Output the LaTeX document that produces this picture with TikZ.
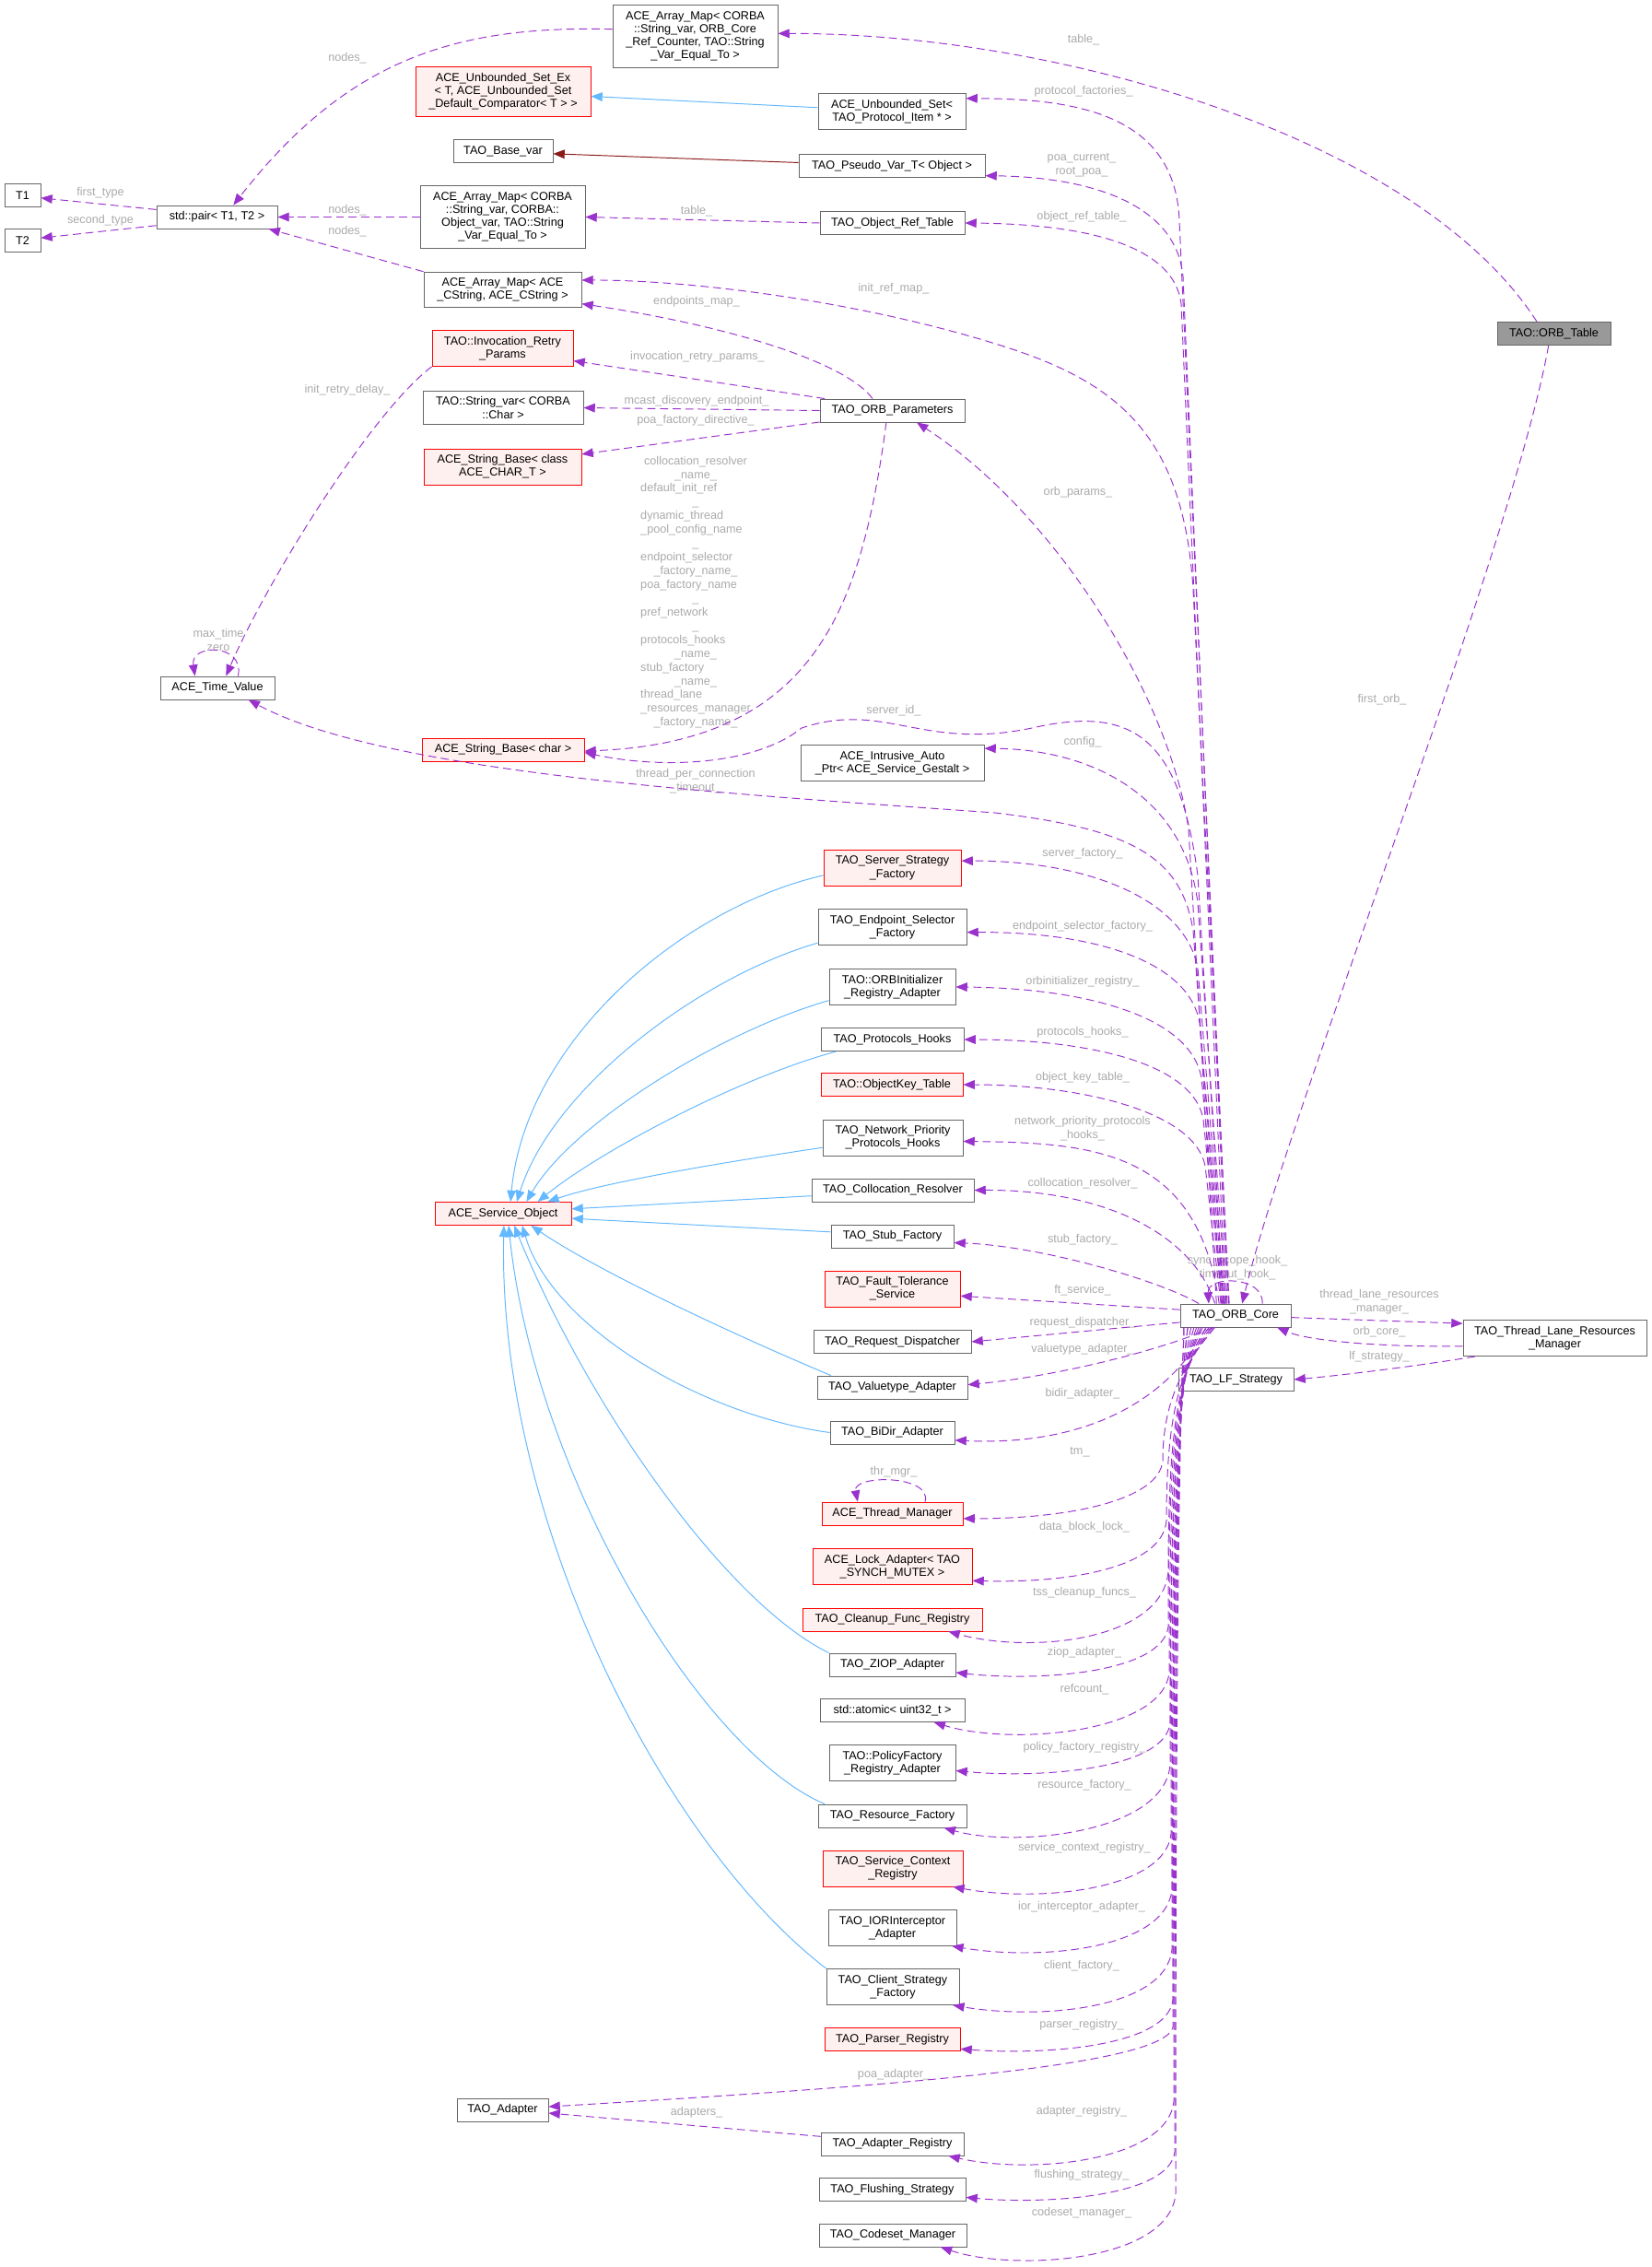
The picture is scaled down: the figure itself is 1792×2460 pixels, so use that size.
\documentclass[tikz,border=0pt]{standalone}
\usepackage{fontspec}
\setmainfont{Liberation Sans}
\usetikzlibrary{arrows.meta}

\definecolor{memcol}{HTML}{9A32CD}
\definecolor{inhcol}{HTML}{63B8FF}
\definecolor{privcol}{HTML}{8B1A1A}
\definecolor{lblcol}{HTML}{ABABAB}
\definecolor{boxcol}{HTML}{666666}
\definecolor{redfill}{HTML}{FFF0F0}
\definecolor{curfill}{HTML}{999999}

\tikzset{
  cls/.style={draw=boxcol, line width=0.5pt, fill=white, align=center, inner xsep=4pt, inner ysep=3.7pt,
    minimum height=25*\pxu, font=\fontsize{7.2}{8.1}\selectfont},
  redcls/.style={cls, draw=red, fill=redfill},
  curcls/.style={cls, fill=curfill},
  lbl/.style={text=lblcol, align=center, inner sep=0pt, font=\fontsize{7.2}{8.5}\selectfont},
  member/.style={draw=memcol, line width=0.55pt, dash pattern=on 5pt off 2.8pt, -{Triangle[length=7pt,width=5.5pt]}},
  inherit/.style={draw=inhcol, line width=0.55pt, -{Triangle[length=7pt,width=5.5pt]}},
  privinh/.style={draw=privcol, line width=0.55pt, -{Triangle[length=7pt,width=5.5pt]}}
}

\begin{document}
\begin{tikzpicture}[x=0.02cm, y=-0.02cm]

% Define pixel unit
\def\pxu{0.02cm}

% Page
\fill[white] (0,0) rectangle (1792,2460);
\useasboundingbox (0,0) rectangle (1792,2460);

% ===== Left column =====
\node[cls, minimum width=39*\pxu] (t1) at (24.5,212) {T1};
\node[cls, minimum width=39*\pxu] (t2) at (24.5,261) {T2};
\node[cls, minimum width=131*\pxu] (pair) at (235.5,235.5) {std::pair< T1, T2 >};
\node[cls, minimum width=124*\pxu] (timeval) at (236,746.5) {ACE\_Time\_Value};
\node[redcls, minimum width=148*\pxu] (svcobj) at (546,1317) {ACE\_Service\_Object};
\node[cls, minimum width=99*\pxu] (adapter) at (545.5,2289.5) {TAO\_Adapter};

% ===== Second column =====
\node[cls, minimum width=179*\pxu] (arrmapref) at (754.5,39.5) {ACE\_Array\_Map< CORBA\\::String\_var, ORB\_Core\\\_Ref\_Counter, TAO::String\\\_Var\_Equal\_To >};
\node[redcls, minimum width=190*\pxu] (unbsetex) at (546,99.5) {ACE\_Unbounded\_Set\_Ex\\< T, ACE\_Unbounded\_Set\\\_Default\_Comparator< T > >};
\node[cls, minimum width=108*\pxu] (basevar) at (546,164) {TAO\_Base\_var};
\node[cls, minimum width=179*\pxu] (arrmapobj) at (545.5,235.5) {ACE\_Array\_Map< CORBA\\::String\_var, CORBA::\\Object\_var, TAO::String\\\_Var\_Equal\_To >};
\node[cls, minimum width=171*\pxu] (arrmapstr) at (545.5,314.5) {ACE\_Array\_Map< ACE\\\_CString, ACE\_CString >};
\node[redcls, minimum width=153*\pxu] (retry) at (545.5,378) {TAO::Invocation\_Retry\\\_Params};
\node[cls, minimum width=174*\pxu] (strvar) at (546,442.5) {TAO::String\_var< CORBA\\::Char >};
\node[redcls, minimum width=171*\pxu] (strbasecls) at (545.5,506.5) {ACE\_String\_Base< class\\ACE\_CHAR\_T >};
\node[redcls, minimum width=176*\pxu] (strbasechar) at (546,813.5) {ACE\_String\_Base< char >};

% ===== Third column =====
\node[cls, minimum width=160*\pxu] (unbset) at (968,121) {ACE\_Unbounded\_Set<\\TAO\_Protocol\_Item * >};
\node[cls, minimum width=202*\pxu] (pseudovar) at (968,180) {TAO\_Pseudo\_Var\_T< Object >};
\node[cls, minimum width=157*\pxu] (objreftable) at (968.5,242) {TAO\_Object\_Ref\_Table};
\node[cls, minimum width=157*\pxu] (orbparams) at (968.5,445.5) {TAO\_ORB\_Parameters};
\node[cls, minimum width=199*\pxu] (intrusive) at (968.5,828) {ACE\_Intrusive\_Auto\\\_Ptr< ACE\_Service\_Gestalt >};
\node[redcls, minimum width=149*\pxu] (srvstrat) at (968.5,942) {TAO\_Server\_Strategy\\\_Factory};
\node[cls, minimum width=161*\pxu] (epsel) at (968.5,1006) {TAO\_Endpoint\_Selector\\\_Factory};
\node[cls, minimum width=137*\pxu] (orbinit) at (968.5,1071) {TAO::ORBInitializer\\\_Registry\_Adapter};
\node[cls, minimum width=155*\pxu] (prothooks) at (968.5,1128) {TAO\_Protocols\_Hooks};
\node[redcls, minimum width=154*\pxu] (objkey) at (968,1177) {TAO::ObjectKey\_Table};
\node[cls, minimum width=152*\pxu] (netprio) at (969,1234.5) {TAO\_Network\_Priority\\\_Protocols\_Hooks};
\node[cls, minimum width=176*\pxu] (colloc) at (969,1291.5) {TAO\_Collocation\_Resolver};
\node[cls, minimum width=133*\pxu] (stubfac) at (968.5,1341.5) {TAO\_Stub\_Factory};
\node[redcls, minimum width=147*\pxu] (ftsvc) at (968.5,1398.5) {TAO\_Fault\_Tolerance\\\_Service};
\node[cls, minimum width=171*\pxu] (reqdisp) at (968.5,1456) {TAO\_Request\_Dispatcher};
\node[cls, minimum width=163*\pxu] (valtype) at (968.5,1505.5) {TAO\_Valuetype\_Adapter};
\node[cls, minimum width=135*\pxu] (bidir) at (968.5,1554.5) {TAO\_BiDir\_Adapter};
\node[redcls, minimum width=153*\pxu] (thrmgr) at (968.5,1642.5) {ACE\_Thread\_Manager};
\node[redcls, minimum width=173*\pxu] (lockadp) at (968.5,1700) {ACE\_Lock\_Adapter< TAO\\\_SYNCH\_MUTEX >};
\node[redcls, minimum width=195*\pxu] (cleanup) at (968.5,1757.5) {TAO\_Cleanup\_Func\_Registry};
\node[cls, minimum width=137*\pxu] (ziop) at (968.5,1806.5) {TAO\_ZIOP\_Adapter};
\node[cls, minimum width=157*\pxu] (atomic) at (968.5,1856) {std::atomic< uint32\_t >};
\node[cls, minimum width=137*\pxu] (polfac) at (968.5,1913) {TAO::PolicyFactory\\\_Registry\_Adapter};
\node[cls, minimum width=161*\pxu] (resfac) at (968.5,1970.5) {TAO\_Resource\_Factory};
\node[redcls, minimum width=152*\pxu] (svcctx) at (969,2027.5) {TAO\_Service\_Context\\\_Registry};
\node[cls, minimum width=139*\pxu] (iorint) at (968.5,2092) {TAO\_IORInterceptor\\\_Adapter};
\node[cls, minimum width=144*\pxu] (clistrat) at (969,2156) {TAO\_Client\_Strategy\\\_Factory};
\node[redcls, minimum width=147*\pxu] (parser) at (968.5,2213) {TAO\_Parser\_Registry};
\node[cls, minimum width=155*\pxu] (adpreg) at (968.5,2326.5) {TAO\_Adapter\_Registry};
\node[cls, minimum width=159*\pxu] (flush) at (968.5,2376) {TAO\_Flushing\_Strategy};
\node[cls, minimum width=160*\pxu] (codeset) at (969,2425.5) {TAO\_Codeset\_Manager};

% ===== Right side =====
\node[cls, minimum width=120*\pxu] (orbcore) at (1341,1427.5) {TAO\_ORB\_Core};
\node[cls, minimum width=125*\pxu] (lfstrat) at (1341.5,1497) {TAO\_LF\_Strategy};
\node[cls, minimum width=199*\pxu] (tlrm) at (1687.5,1452) {TAO\_Thread\_Lane\_Resources\\\_Manager};
\node[curcls, minimum width=123*\pxu] (orbtable) at (1686.5,362) {TAO::ORB\_Table};

% ===== Edge labels =====
\node[lbl] (lnodesa) at (377,63) {nodes\_};
\node[lbl] (lnodesb) at (377,228) {nodes\_};
\node[lbl] (lnodesc) at (377,251) {nodes\_};
\node[lbl] (lfirst) at (109,209) {first\_type};
\node[lbl] (lsecond) at (109,239) {second\_type};
\node[lbl] (ltablea) at (1176,43) {table\_};
\node[lbl] (ltableb) at (756,229) {table\_};
\node[lbl] (lprotfac) at (1176,99) {protocol\_factories\_};
\node[lbl] (lpoacur) at (1174,179.5) {poa\_current\_\\root\_poa\_};
\node[lbl] (lobjref) at (1174,235) {object\_ref\_table\_};
\node[lbl] (linitref) at (970,313) {init\_ref\_map\_};
\node[lbl] (lendpts) at (756,327) {endpoints\_map\_};
\node[lbl] (linvretry) at (757,387) {invocation\_retry\_params\_};
\node[lbl] (lmcast) at (756,435) {mcast\_discovery\_endpoint\_};
\node[lbl] (lpoadir) at (755,456) {poa\_factory\_directive\_};
\node[lbl] (lretrydelay) at (377,423) {init\_retry\_delay\_};
\node[lbl] (lnames) at (755,643) {\begin{tabular}{@{}l@{}}
\multicolumn{1}{@{}c@{}}{collocation\_resolver}\\ \multicolumn{1}{@{}c@{}}{\_name\_}\\
default\_init\_ref\\ \multicolumn{1}{@{}c@{}}{\_}\\
dynamic\_thread\\ \_pool\_config\_name\\ \multicolumn{1}{@{}c@{}}{\_}\\
endpoint\_selector\\ \multicolumn{1}{@{}c@{}}{\_factory\_name\_}\\
poa\_factory\_name\\ \multicolumn{1}{@{}c@{}}{\_}\\
pref\_network\\ \multicolumn{1}{@{}c@{}}{\_}\\
protocols\_hooks\\ \multicolumn{1}{@{}c@{}}{\_name\_}\\
stub\_factory\\ \multicolumn{1}{@{}c@{}}{\_name\_}\\
thread\_lane\\ \_resources\_manager\\ \multicolumn{1}{@{}c@{}}{\_factory\_name\_}
\end{tabular}};
\node[lbl] (lorbparams) at (1170,534) {orb\_params\_};
\node[lbl] (lmaxtime) at (237,694.5) {max\_time\\zero};
\node[lbl] (lserverid) at (970,771) {server\_id\_};
\node[lbl] (lfirstorb) at (1500,759) {first\_orb\_};
\node[lbl] (lconfig) at (1175,805) {config\_};
\node[lbl] (ltpc) at (755,848) {thread\_per\_connection\\\_timeout\_};
\node[lbl] (lsrvfac) at (1175,926) {server\_factory\_};
\node[lbl] (lepsel) at (1175,1005) {endpoint\_selector\_factory\_};
\node[lbl] (lorbinit) at (1175,1065) {orbinitializer\_registry\_};
\node[lbl] (lprothooks) at (1175,1120) {protocols\_hooks\_};
\node[lbl] (lobjkey) at (1175,1169) {object\_key\_table\_};
\node[lbl] (lnetprio) at (1175,1224.5) {network\_priority\_protocols\\\_hooks\_};
\node[lbl] (lcolloc) at (1175,1284) {collocation\_resolver\_};
\node[lbl] (lstub) at (1175,1345) {stub\_factory\_};
\node[lbl] (lhooks) at (1343,1376) {sync\_scope\_hook\_\\timeout\_hook\_};
\node[lbl] (lft) at (1175,1400) {ft\_service\_};
\node[lbl] (lreqdisp) at (1175,1435) {request\_dispatcher\_};
\node[lbl] (lvaltype) at (1175,1464) {valuetype\_adapter\_};
\node[lbl] (lbidir) at (1175,1512) {bidir\_adapter\_};
\node[lbl] (ltm) at (1172,1576) {tm\_};
\node[lbl] (lthrmgr) at (970,1597) {thr\_mgr\_};
\node[lbl] (llock) at (1177,1657) {data\_block\_lock\_};
\node[lbl] (ltss) at (1177,1728) {tss\_cleanup\_funcs\_};
\node[lbl] (lziop) at (1177,1793) {ziop\_adapter\_};
\node[lbl] (lrefcount) at (1177,1833) {refcount\_};
\node[lbl] (lpolfac) at (1177,1896) {policy\_factory\_registry\_};
\node[lbl] (lresfac) at (1177,1937) {resource\_factory\_};
\node[lbl] (lsvcctx) at (1177,2005) {service\_context\_registry\_};
\node[lbl] (liorint) at (1174,2069) {ior\_interceptor\_adapter\_};
\node[lbl] (lclient) at (1174,2133) {client\_factory\_};
\node[lbl] (lparser) at (1174,2197) {parser\_registry\_};
\node[lbl] (lpoaadp) at (970,2251) {poa\_adapter\_};
\node[lbl] (ladapters) at (756,2292) {adapters\_};
\node[lbl] (ladpreg) at (1174,2291) {adapter\_registry\_};
\node[lbl] (lflush) at (1174,2360) {flushing\_strategy\_};
\node[lbl] (lcodeset) at (1174,2401) {codeset\_manager\_};
\node[lbl] (ltlrm) at (1497,1412.5) {thread\_lane\_resources\\\_manager\_};
\node[lbl] (lorbcore) at (1497,1445) {orb\_core\_};
\node[lbl] (llf) at (1497,1472) {lf\_strategy\_};

% ===== Left cluster edges =====
\draw[member] (arrmapref.175) .. controls (500,28) and (380,60) .. (pair.36);
\draw[member] (pair.173) -- (t1.-8);
\draw[member] (pair.-172) -- (t2.8);
\draw[member] (arrmapobj.west) -- (pair.east);
\draw[member] (arrmapstr.north west) -- (pair.-13);
\draw[member] (objreftable.west) -- (arrmapobj.east);
\draw[inherit] (unbset.177) -- (unbsetex.-3);
\draw[privinh] (pseudovar.178) -- (basevar.-3);

% ===== ORB_Table edges =====
\draw[member] (orbtable.145) .. controls (1540,150) and (1150,36) .. (arrmapref.2);
\draw[member] (orbtable.-114) .. controls (1640,600) and (1400,1200) .. (orbcore.61);

% ===== ORB_Parameters edges =====
\draw[member] (orbparams.149) .. controls (920,395) and (800,355) .. (arrmapstr.-10);
\draw[member] (orbparams.170) -- (retry.-10);
\draw[member] (orbparams.west) -- (strvar.east);
\draw[member] (orbparams.-171) -- (strbasecls.9);
\draw[member] (orbparams.-117) .. controls (935,660) and (885,805) .. (strbasechar.-1);
\draw[member] (retry.south west) .. controls (400,450) and (285,640) .. (timeval.54);
\draw[member] (timeval.30) .. controls (266,698) and (206,698) .. (timeval.152);

% ===== ORB_Core upward members =====
\draw[member] (orbcore.120) -- (1280,240) .. controls (1276,125) and (1170,107) .. (unbset.10);
\draw[member] (orbcore.125) -- (1284,300) .. controls (1276,215) and (1170,192) .. (pseudovar.-6);
\draw[member] (orbcore.130) -- (1282,330) .. controls (1274,260) and (1160,243) .. (objreftable.east);
\draw[member] (orbcore.118) -- (1295,640) .. controls (1285,480) and (1220,420) .. (1102,380)
  .. controls (952,330) and (760,304) .. (arrmapstr.7);
\draw[member] (orbcore.148) -- (1290,900) .. controls (1270,760) and (1150,560) .. (orbparams.-26);
\draw[member] (orbcore.135) -- (1300,950) .. controls (1280,800) and (1230,765) .. (1120,790)
  .. controls (1000,815) and (960,760) .. (870,790) .. controls (820,830) and (720,835) .. (strbasechar.-2);
\draw[member] (orbcore.128) -- (1300,980) .. controls (1285,860) and (1180,813) .. (intrusive.9);
\draw[member] (orbcore.140) -- (1295,1010) .. controls (1282,930) and (1230,900) .. (1080,882)
  .. controls (800,862) and (420,840) .. (timeval.-21);
\draw[member] (orbcore.132) -- (1300,1050) .. controls (1285,975) and (1180,934) .. (srvstrat.6);
\draw[member] (orbcore.134) -- (1302,1110) .. controls (1290,1040) and (1180,1011) .. (epsel.-4);
\draw[member] (orbcore.136) -- (1304,1170) .. controls (1292,1100) and (1170,1072) .. (orbinit.east);
\draw[member] (orbcore.138) -- (1306,1215) .. controls (1295,1150) and (1170,1128) .. (prothooks.east);
\draw[member] (orbcore.141) -- (1308,1265) .. controls (1296,1205) and (1170,1177) .. (objkey.east);
\draw[member] (orbcore.144) .. controls (1300,1250) and (1190,1240) .. (netprio.-3);
\draw[member] (orbcore.150) .. controls (1295,1340) and (1200,1291) .. (colloc.east);
\draw[member] (orbcore.162) .. controls (1260,1390) and (1130,1352) .. (stubfac.-6);
\draw[member] (orbcore.174) -- (ftsvc.-6);
\draw[member] (orbcore.-173) -- (reqdisp.east);
\draw[member] (orbcore.-152) .. controls (1260,1465) and (1150,1493) .. (valtype.2);
\draw[member] (orbcore.-158) .. controls (1275,1510) and (1190,1570) .. (bidir.-7);
\draw[member] (orbcore.24) .. controls (1372,1384) and (1310,1384) .. (orbcore.156);

% ===== ORB_Core downward members =====
\draw[member] (orbcore.-150) .. controls (1285,1480) and (1262,1520) .. (1262,1585) .. controls (1258,1628) and (1160,1648) .. (thrmgr.-4);
\draw[member] (orbcore.-152) .. controls (1285,1480) and (1266,1520) .. (1266,1650) .. controls (1262,1700) and (1165,1718) .. (lockadp.-10);
\draw[member] (orbcore.-154) .. controls (1285,1480) and (1268,1520) .. (1268,1705) .. controls (1262,1780) and (1120,1795) .. (cleanup.-12);
\draw[member] (orbcore.-156) .. controls (1285,1480) and (1268,1520) .. (1268,1765) .. controls (1262,1815) and (1130,1825) .. (ziop.-7);
\draw[member] (orbcore.-158) .. controls (1285,1480) and (1269,1520) .. (1269,1815) .. controls (1262,1880) and (1100,1895) .. (atomic.-16);
\draw[member] (orbcore.-160) .. controls (1285,1480) and (1270,1520) .. (1270,1870) .. controls (1264,1920) and (1130,1930) .. (polfac.-7);
\draw[member] (orbcore.-161) .. controls (1285,1480) and (1270,1520) .. (1270,1915) .. controls (1264,1990) and (1100,2005) .. (resfac.-13);
\draw[member] (orbcore.-162) .. controls (1285,1480) and (1271,1520) .. (1271,1990) .. controls (1265,2050) and (1130,2065) .. (svcctx.-17);
\draw[member] (orbcore.-163) .. controls (1285,1480) and (1272,1520) .. (1272,2050) .. controls (1266,2115) and (1130,2128) .. (iorint.-17);
\draw[member] (orbcore.-164) .. controls (1285,1480) and (1272,1520) .. (1272,2115) .. controls (1266,2180) and (1130,2192) .. (clistrat.-17);
\draw[member] (orbcore.-165) .. controls (1285,1480) and (1273,1520) .. (1273,2170) .. controls (1267,2222) and (1130,2230) .. (parser.-8);
\draw[member] (orbcore.-166) .. controls (1285,1480) and (1273,1520) .. (1273,2200) .. controls (1262,2240) and (1000,2262) .. (adapter.4);
\draw[member] (orbcore.-166) .. controls (1285,1480) and (1274,1520) .. (1274,2280) .. controls (1268,2345) and (1120,2360) .. (adpreg.-12);
\draw[member] (orbcore.-167) .. controls (1285,1480) and (1275,1520) .. (1275,2335) .. controls (1269,2385) and (1130,2392) .. (flush.-6);
\draw[member] (orbcore.-167) .. controls (1285,1480) and (1276,1520) .. (1276,2380) .. controls (1270,2455) and (1100,2465) .. (codeset.-14);
\draw[member] (thrmgr.20) .. controls (1012,1600) and (925,1600) .. (thrmgr.161);
\draw[member] (adpreg.174) -- (adapter.-4);

% ===== Thread lane manager =====
\draw[member] (orbcore.-2) -- (tlrm.171);
\draw[member] (tlrm.-175) .. controls (1500,1462) and (1420,1455) .. (orbcore.-16);
\draw[member] (tlrm.-167) .. controls (1540,1482) and (1460,1492) .. (lfstrat.east);

% ===== Inheritance from ACE_Service_Object =====
\draw[inherit] (srvstrat.-174) .. controls (740,985) and (570,1130) .. (svcobj.58);
\draw[inherit] (epsel.-168) .. controls (760,1060) and (600,1180) .. (svcobj.41);
\draw[inherit] (orbinit.-168) .. controls (780,1120) and (620,1220) .. (svcobj.27);
\draw[inherit] (prothooks.-168) .. controls (800,1170) and (650,1250) .. (svcobj.19);
\draw[inherit] (netprio.-172) .. controls (760,1265) and (650,1285) .. (svcobj.15);
\draw[inherit] (colloc.-176) -- (svcobj.4);
\draw[inherit] (stubfac.176) -- (svcobj.-4);
\draw[inherit] (valtype.169) .. controls (800,1450) and (650,1380) .. (svcobj.-23);
\draw[inherit] (bidir.west) .. controls (760,1535) and (600,1440) .. (svcobj.-32);
\draw[inherit] (ziop.north west) .. controls (790,1740) and (640,1530) .. (svcobj.-47);
\draw[inherit] (resfac.170) .. controls (760,1900) and (580,1600) .. (svcobj.-65);
\draw[inherit] (clistrat.north west) .. controls (720,2000) and (540,1650) .. (svcobj.-86);

\end{tikzpicture}
\end{document}
